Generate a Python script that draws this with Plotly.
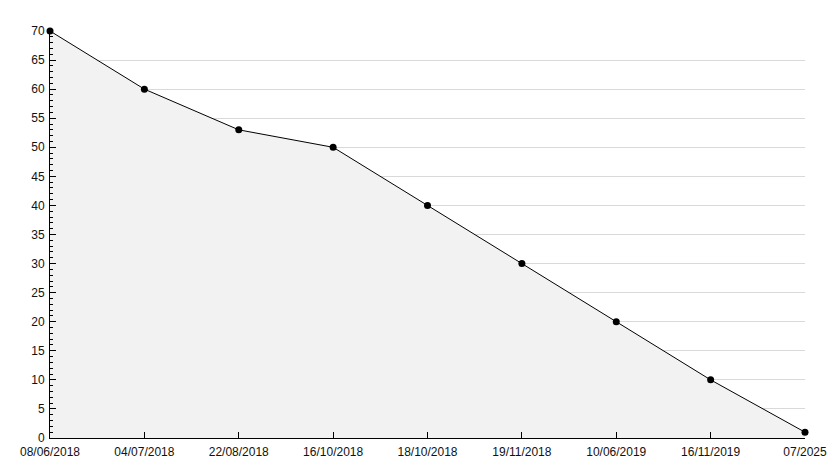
import plotly.graph_objects as go

dates = ["08/06/2018", "04/07/2018", "22/08/2018", "16/10/2018", "18/10/2018",
         "19/11/2018", "10/06/2019", "16/11/2019", "07/2025"]
values = [70, 60, 53, 50, 40, 30, 20, 10, 1]
y_ticks = list(range(0, 71, 5))

fig = go.Figure()
fig.add_trace(go.Scatter(
    x=list(range(len(dates))), y=values,
    mode="lines+markers",
    fill="tozeroy", fillcolor="#f2f2f2",
    line=dict(color="black", width=1),
    marker=dict(symbol="circle", size=7, color="black"),
    cliponaxis=False,
    hoverinfo="skip",
))

fig.update_layout(
    width=834, height=468,
    margin=dict(l=50, r=29, t=31, b=30, autoexpand=False),
    plot_bgcolor="white", paper_bgcolor="white",
    showlegend=False,
    font=dict(family="Liberation Sans", size=12, color="#111"),
    xaxis=dict(
        range=[0, len(dates) - 1],
        tickmode="array", tickvals=list(range(len(dates))), ticktext=dates,
        showgrid=False, zeroline=False,
        showline=True, linecolor="black", linewidth=1,
        ticks="inside", ticklen=6, tickcolor="black",
        ticklabelstandoff=3,
        automargin=False,
    ),
    yaxis=dict(
        range=[0, 70],
        tickmode="array", tickvals=y_ticks,
        showgrid=True, gridcolor="#d9d9d9", gridwidth=1,
        zeroline=False,
        showline=True, linecolor="black", linewidth=1,
        ticks="inside", ticklen=6, tickcolor="black",
        ticklabelstandoff=2,
        minor=dict(dtick=1, ticks="inside", ticklen=3, tickcolor="black", showgrid=False),
        automargin=False,
    ),
)

fig.write_html("out.html", config={"displayModeBar": False},
               post_script="document.body.style.margin='0';document.body.style.overflow='hidden';")
